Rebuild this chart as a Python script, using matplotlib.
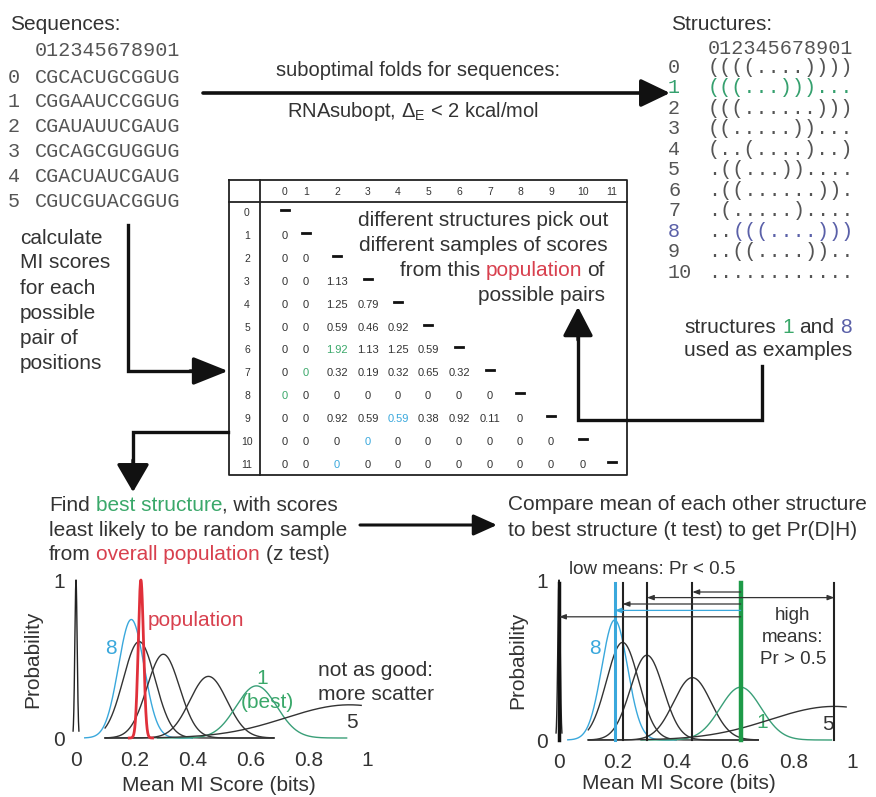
import matplotlib
matplotlib.use("Agg")
import matplotlib.pyplot as plt
import numpy as np

plt.rcParams['font.family'] = ['Liberation Sans', 'DejaVu Sans']
plt.rcParams['mathtext.fontset'] = 'custom'
plt.rcParams['mathtext.rm'] = 'Liberation Sans'
plt.rcParams['mathtext.it'] = 'Liberation Sans:italic'

# ---- data ----
seq_ids = ['0', '1', '2', '3', '4', '5']
sequences = ['CGCACUGCGGUG', 'CGGAAUCCGGUG', 'CGAUAUUCGAUG',
             'CGCAGCGUGGUG', 'CGACUAUCGAUG', 'CGUCGUACGGUG']
struct_ids = ['0', '1', '2', '3', '4', '5', '6', '7', '8', '9', '10']
structures = ['((((....))))', '(((...)))...', '(((......)))', '((.....))...',
              '(..(....)..)', '.((...))....', '.((......)).', '.(.....)....',
              '..(((....)))', '..((....))..', '............']

# lower triangle of MI score matrix (row i, cols 0..i-1)
mi_rows = [
    [],
    ['0'],
    ['0', '0'],
    ['0', '0', '1.13'],
    ['0', '0', '1.25', '0.79'],
    ['0', '0', '0.59', '0.46', '0.92'],
    ['0', '0', '1.92', '1.13', '1.25', '0.59'],
    ['0', '0', '0.32', '0.19', '0.32', '0.65', '0.32'],
    ['0', '0', '0', '0', '0', '0', '0', '0'],
    ['0', '0', '0.92', '0.59', '0.59', '0.38', '0.92', '0.11', '0'],
    ['0', '0', '0', '0', '0', '0', '0', '0', '0', '0'],
    ['0', '0', '0', '0', '0', '0', '0', '0', '0', '0', '0'],
]
pairs_s1 = [(8, 0), (7, 1), (6, 2)]
pairs_s8 = [(11, 2), (10, 3), (9, 4)]

# distributions of mean MI score per structure
dist_names = ['10', '8', 'a', 'b', 'c', '1', '5']
dist_mean = [0.0, 0.19, 0.217, 0.30, 0.455, 0.62, 0.94]
dist_sd = [0.004, 0.044, 0.055, 0.056, 0.064, 0.07, 0.22]
dist_peak = [1.0, 0.75, 0.61, 0.53, 0.39, 0.33, 0.21]
dist_lo = [-0.01, 0.03, 0.1, 0.1, 0.1, 0.28, 0.1]
dist_hi = [0.01, 0.4, 0.68, 0.68, 0.68, 0.93, 0.98]
pop_mean, pop_sd, pop_peak = 0.223, 0.009, 1.0

# t-test arrows from best structure mean to others
arrow_to = [0.455, 0.30, 0.94, 0.217, 0.19, 0.0]
arrow_lev = [0.925, 0.89, 0.89, 0.85, 0.81, 0.77]

TXT = '#333333'
CYAN = '#3aa8dc'
GREEN = '#35a06e'
GREEN_T = '#3aa86a'
BLUE8 = '#5a60a8'
RED = '#e0303a'
RED_T = '#d8404e'
dist_col = ['#222222', CYAN, '#333333', '#333333', '#333333', '#3a9f78', '#333333']

fig = plt.figure(figsize=(8.76, 7.97), dpi=100)
ax = fig.add_axes([0, 0, 1, 1])
ax.set_xlim(0, 876)
ax.set_ylim(797, 0)
ax.axis('off')
renderer = fig.canvas.get_renderer()


def parts_text(x, y, parts, ha='left', size=15):
    # parts: (text, color, space_after)
    probe1 = ax.text(0, 0, 'x x', fontsize=size)
    probe2 = ax.text(0, 0, 'xx', fontsize=size)
    sp = probe1.get_window_extent(renderer).width - probe2.get_window_extent(renderer).width
    probe1.remove()
    probe2.remove()
    items = []
    total = 0
    for s, c, gap in parts:
        t = ax.text(0, y, s, color=c, fontsize=size, va='center', ha='left')
        w = t.get_window_extent(renderer).width
        items.append((t, w))
        total += w + (sp if gap else 0)
    if ha == 'right':
        cur = x - total
    elif ha == 'center':
        cur = x - total / 2
    else:
        cur = x
    for (t, w), (_, _, gap) in zip(items, parts):
        t.set_x(cur)
        cur += w + (sp if gap else 0)


def arrow(x0, y0, x1, y1, hl=24, hw=11, lw=2.4, color='#111111'):
    ax.annotate('', xy=(x1, y1), xytext=(x0, y0),
                arrowprops=dict(arrowstyle='-|>,head_length=%.2f,head_width=%.2f' % (hl / 1.389, hw / 1.389),
                                mutation_scale=1, lw=lw, color=color, shrinkA=0, shrinkB=0))


# ---- sequences ----
ax.text(10, 24, 'Sequences:', fontsize=15, color=TXT, va='center')
ax.text(35, 50, '012345678901', family='Liberation Mono', fontsize=14.5, color='#555555', va='center')
for i, (sid, s) in enumerate(zip(seq_ids, sequences)):
    y = 77 + 24.8 * i
    ax.text(14, y, sid, family='Liberation Mono', fontsize=14.5, color='#555555', va='center', ha='center')
    ax.text(35, y, s, family='Liberation Mono', fontsize=14.5, color='#555555', va='center')

# ---- structures ----
ax.text(671, 24, 'Structures:', fontsize=15, color=TXT, va='center')
t = ax.text(708, 48, '012345678901', family='Liberation Mono', fontsize=14.5, color='#555555', va='center')
char_w = t.get_window_extent(renderer).width / 12
for i, (sid, s) in enumerate(zip(struct_ids, structures)):
    y = 67 + 20.5 * i
    col = '#555555'
    if sid == '1':
        col = GREEN
    if sid == '8':
        col = BLUE8
    ax.text(668, y, sid, family='Liberation Mono', fontsize=14.5, color=col, va='center')
    if sid == '8':
        ax.text(708, y, s[:2], family='Liberation Mono', fontsize=14.5, color='#555555', va='center')
        ax.text(708 + 2 * char_w, y, s[2:], family='Liberation Mono', fontsize=14.5, color=col, va='center')
    else:
        ax.text(708, y, s, family='Liberation Mono', fontsize=14.5, color=col, va='center')

# ---- top arrow ----
arrow(203, 93, 670, 93, hl=25, hw=12, lw=2.6)
ax.text(418, 70, 'suboptimal folds for sequences:', fontsize=14.5, color=TXT, ha='center', va='center')
ax.text(413, 111, r'RNAsubopt, $\mathrm{\Delta_E}$ < 2 kcal/mol', fontsize=14.5, color=TXT, ha='center', va='center')

# ---- left text + arrow into table ----
for k, line in enumerate(['calculate', 'MI scores', 'for each', 'possible', 'pair of', 'positions']):
    ax.text(20, 238 + 25 * k, line, fontsize=15, color=TXT, va='center')
ax.plot([128, 128, 200], [225, 371, 371], color='#111111', lw=2.4, solid_joinstyle='miter')
arrow(190, 371, 228, 371, hl=30, hw=12)

# ---- table ----
tx0, tx1, ty0, ty1 = 229, 627, 180, 475
ax.plot([tx0, tx1, tx1, tx0, tx0], [ty0, ty0, ty1, ty1, ty0], color='#222222', lw=1.3)
ax.plot([tx0, tx1], [202, 202], color='#222222', lw=1.3)
ax.plot([260, 260], [ty0, ty1], color='#222222', lw=1.3)
col_x = [285, 306, 337, 368, 398, 428, 459, 490, 520, 551, 583, 612]
row_y = [213 + 22.9 * i for i in range(12)]
for j, cx in enumerate(col_x):
    ax.text(cx, 192, str(j), fontsize=7.5, color='#333333', ha='center', va='center')
for i, ry in enumerate(row_y):
    ax.text(247, ry, str(i), fontsize=7.5, color='#333333', ha='center', va='center')
    ax.plot([col_x[i] - 4, col_x[i] + 4], [ry - 3, ry - 3], color='#111111', lw=2)
    for j, v in enumerate(mi_rows[i]):
        c = '#333333'
        if (i, j) in pairs_s1:
            c = GREEN_T
        if (i, j) in pairs_s8:
            c = CYAN
        ax.text(col_x[j], ry, v, fontsize=8, color=c, ha='center', va='center')

parts_text(608, 220, [('different structures pick out', TXT, False)], ha='right')
parts_text(608, 245, [('different samples of scores', TXT, False)], ha='right')
parts_text(605, 270, [('from this', TXT, True), ('population', RED_T, True), ('of', TXT, False)], ha='right')
parts_text(605, 295, [('possible pairs', TXT, False)], ha='right')

# ---- structures 1 and 8 note + arrow ----
parts_text(768, 327, [('structures', TXT, True), ('1', GREEN_T, True), ('and', TXT, True), ('8', BLUE8, False)], ha='center')
ax.text(768, 350, 'used as examples', fontsize=15, color=TXT, ha='center', va='center')
ax.plot([762, 762, 578, 578], [366, 420, 420, 330], color='#111111', lw=2.4, solid_joinstyle='miter')
arrow(578, 340, 578, 307, hl=25, hw=13)

# ---- table to z-test ----
ax.plot([228, 133, 133], [432, 432, 470], color='#111111', lw=2.4, solid_joinstyle='miter')
arrow(133, 460, 133, 492, hl=24, hw=14)

parts_text(49, 505, [('Find', TXT, True), ('best structure', GREEN_T, False), (', with scores', TXT, False)])
parts_text(49, 530, [('least likely to be random sample', TXT, False)])
parts_text(49, 555, [('from', TXT, True), ('overall population', RED_T, True), ('(z test)', TXT, False)])

arrow(360, 525, 497, 525, hl=20, hw=9, lw=2.2)
ax.text(508, 505, 'Compare mean of each other structure', fontsize=15, color=TXT, va='center')
ax.text(508, 530, 'to best structure (t test) to get Pr(D|H)', fontsize=15, color=TXT, va='center')


def curve(a, k):
    xs = np.linspace(dist_lo[k], dist_hi[k], 400)
    ys = dist_peak[k] * np.exp(-(xs - dist_mean[k]) ** 2 / (2 * dist_sd[k] ** 2))
    a.plot(xs, ys, color=dist_col[k], lw=1.0, clip_on=False)


def setup(a):
    a.set_xlim(0, 1)
    a.set_ylim(0, 1)
    for s in a.spines.values():
        s.set_visible(False)
    a.set_xticks([0, 0.2, 0.4, 0.6, 0.8, 1])
    a.set_xticklabels(['0', '0.2', '0.4', '0.6', '0.8', '1'])
    a.set_yticks([0, 1])
    a.set_yticklabels(['0', '1'])
    a.tick_params(length=0, labelsize=15, labelcolor=TXT)
    a.tick_params(axis='x', pad=9)
    a.tick_params(axis='y', pad=8)
    a.patch.set_alpha(0)


# ---- left plot ----
axl = fig.add_axes([76 / 876, (797 - 738) / 797, 291 / 876, 158 / 797])
setup(axl)
for k in range(len(dist_mean)):
    curve(axl, k)
xs = np.linspace(pop_mean - 0.04, pop_mean + 0.04, 200)
axl.plot(xs, pop_peak * np.exp(-(xs - pop_mean) ** 2 / (2 * pop_sd ** 2)), color=RED, lw=2.0, clip_on=False)
axl.text(-0.15, 0.5, 'Probability', rotation=90, fontsize=15, color=TXT, ha='center', va='center', transform=axl.transAxes)
axl.text(0.49, -0.30, 'Mean MI Score (bits)', fontsize=15, color=TXT, ha='center', va='center', transform=axl.transAxes)

ax.text(148, 620, 'population', fontsize=15, color=RED_T, va='center')
ax.text(111, 648, '8', fontsize=15, color=CYAN, ha='center', va='center')
ax.text(262, 678, '1', fontsize=15, color=GREEN_T, ha='center', va='center')
ax.text(267, 702, '(best)', fontsize=15, color=GREEN_T, ha='center', va='center')
ax.text(318, 670, 'not as good:', fontsize=15, color=TXT, va='center')
ax.text(318, 695, 'more scatter', fontsize=15, color=TXT, va='center')
ax.text(352, 723, '5', fontsize=15, color=TXT, ha='center', va='center')

# ---- right plot ----
axr = fig.add_axes([559 / 876, (797 - 740) / 797, 293 / 876, 160 / 797])
setup(axr)
for k in range(len(dist_mean)):
    curve(axr, k)
vl_w = [2.5, 2.2, 1.5, 1.5, 1.5, 3.2, 1.5]
vl_c = ['#111111', CYAN, '#222222', '#222222', '#222222', '#1e9a48', '#222222']
for k in range(len(dist_mean)):
    axr.plot([dist_mean[k], dist_mean[k]], [0, 0.98], color=vl_c[k], lw=vl_w[k], clip_on=False)
best = dist_mean[5]
for tgt, lev in zip(arrow_to, arrow_lev):
    c = CYAN if tgt == dist_mean[1] else '#333333'
    axr.annotate('', xy=(tgt, lev), xytext=(best, lev),
                 arrowprops=dict(arrowstyle='-|>,head_length=4,head_width=1.5', mutation_scale=1,
                                 lw=0.9, color=c, shrinkA=0, shrinkB=0))
axr.text(-0.14, 0.5, 'Probability', rotation=90, fontsize=15, color=TXT, ha='center', va='center', transform=axr.transAxes)
axr.text(0.41, -0.27, 'Mean MI Score (bits)', fontsize=15, color=TXT, ha='center', va='center', transform=axr.transAxes)

ax.text(652, 570, 'low means: Pr < 0.5', fontsize=13.5, color=TXT, ha='center', va='center')
ax.text(793, 615, 'high', fontsize=13.5, color=TXT, ha='center', va='center')
ax.text(793, 638, 'means:', fontsize=13.5, color=TXT, ha='center', va='center')
ax.text(793, 660, 'Pr > 0.5', fontsize=13.5, color=TXT, ha='center', va='center')
ax.text(595, 648, '8', fontsize=15, color=CYAN, ha='center', va='center')
ax.text(762, 722, '1', fontsize=15, color=GREEN_T, ha='center', va='center')
ax.text(828, 725, '5', fontsize=15, color=TXT, ha='center', va='center')

fig.savefig('out.png', dpi=100)
